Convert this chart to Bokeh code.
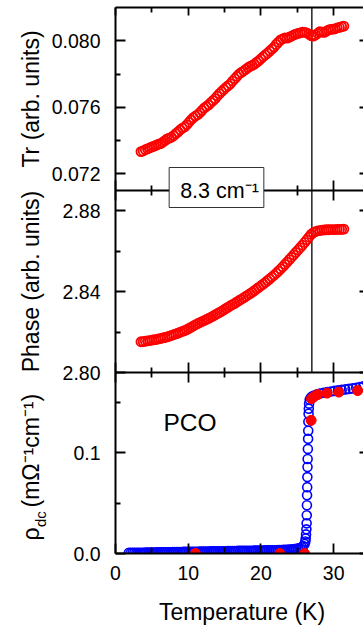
import math
from bokeh.plotting import figure
from bokeh.models import (Range1d, LinearAxis, FixedTicker, PrintfTickFormatter, Label,
                          BoxAnnotation)
from bokeh.embed import file_html
from bokeh.resources import INLINE

# ---------------- data ----------------
# Panel 1: transmission (arb. units) vs temperature (K)
tr_T = [3.5, 3.8, 4.1, 4.4, 4.7, 5.0, 5.3, 5.6, 5.9, 6.2, 6.5, 6.8, 7.1, 7.4, 7.7, 8.0,
        8.3, 8.6, 8.9, 9.2, 9.5, 9.8, 10.1, 10.4, 10.7, 11.0, 11.3, 11.6, 11.9, 12.2,
        12.5, 12.8, 13.1, 13.4, 13.7, 14.0, 14.3, 14.6, 14.9, 15.2, 15.5, 15.8, 16.1,
        16.4, 16.7, 17.0, 17.3, 17.6, 17.9, 18.2, 18.5, 18.8, 19.1, 19.4, 19.7, 20.0,
        20.3, 20.6, 20.9, 21.2, 21.5, 21.8, 22.1, 22.4, 22.7, 23.0, 23.3, 23.6, 23.9,
        24.2, 24.5, 24.8, 25.1, 25.4, 25.7, 26.0, 26.3, 26.6, 26.9, 27.2, 27.5, 27.8,
        28.1, 28.4, 28.7, 29.0, 29.3, 29.6, 29.9, 30.2, 30.5, 30.8, 31.1, 31.4]
tr_val = [0.07334, 0.07338, 0.07345, 0.07350, 0.07356, 0.07362, 0.07366, 0.07372,
          0.07378, 0.07382, 0.07390, 0.07400, 0.07410, 0.07415, 0.07420, 0.07430,
          0.07442, 0.07452, 0.07465, 0.07475, 0.07482, 0.07495, 0.07510, 0.07525,
          0.07538, 0.07548, 0.07555, 0.07568, 0.07582, 0.07596, 0.07605, 0.07615,
          0.07628, 0.07640, 0.07652, 0.07668, 0.07682, 0.07695, 0.07708, 0.07720,
          0.07730, 0.07742, 0.07758, 0.07772, 0.07786, 0.07800, 0.07810, 0.07818,
          0.07828, 0.07838, 0.07846, 0.07852, 0.07860, 0.07870, 0.07880, 0.07892,
          0.07904, 0.07915, 0.07926, 0.07938, 0.07950, 0.07962, 0.07978, 0.07992,
          0.08005, 0.08012, 0.08018, 0.08016, 0.08022, 0.08028, 0.08035, 0.08040,
          0.08044, 0.08048, 0.08052, 0.08050, 0.08048, 0.08040, 0.08030, 0.08028,
          0.08035, 0.08045, 0.08055, 0.08052, 0.08050, 0.08058, 0.08065, 0.08068,
          0.08070, 0.08072, 0.08078, 0.08080, 0.08085, 0.08088]

# Panel 2: phase (arb. units) vs temperature (K)
ph_T = tr_T
ph_val = [2.8152, 2.8153, 2.8155, 2.8156, 2.8158, 2.8160, 2.8162, 2.8163, 2.8166,
          2.8168, 2.8171, 2.8173, 2.8176, 2.8180, 2.8183, 2.8187, 2.8191, 2.8195,
          2.8199, 2.8203, 2.8207, 2.8212, 2.8218, 2.8224, 2.8230, 2.8236, 2.8242,
          2.8247, 2.8252, 2.8257, 2.8262, 2.8267, 2.8273, 2.8279, 2.8285, 2.8291,
          2.8297, 2.8303, 2.8310, 2.8317, 2.8323, 2.8330, 2.8336, 2.8342, 2.8349,
          2.8356, 2.8362, 2.8369, 2.8376, 2.8383, 2.8390, 2.8397, 2.8405, 2.8413,
          2.8421, 2.8429, 2.8437, 2.8445, 2.8454, 2.8463, 2.8472, 2.8481, 2.8491,
          2.8501, 2.8512, 2.8523, 2.8535, 2.8546, 2.8558, 2.8570, 2.8582, 2.8594,
          2.8606, 2.8618, 2.8630, 2.8643, 2.8656, 2.8670, 2.8683, 2.8692, 2.8697,
          2.8700, 2.8702, 2.8704, 2.8705, 2.8706, 2.8706, 2.8707, 2.8707, 2.8707,
          2.8708, 2.8708, 2.8708, 2.8709]

# Panel 3: dc data (open blue) and points from the optical data (filled red)
dc_T = [1.84,
        2.1, 2.35, 2.6, 2.85, 3.1, 3.35, 3.6, 3.85, 4.1, 4.35, 4.6, 4.85,
        5.1, 5.35, 5.6, 5.85, 6.1, 6.35, 6.6, 6.85, 7.1, 7.35, 7.6, 7.85,
        8.1, 8.35, 8.6, 8.85, 9.1, 9.35, 9.6, 9.85, 10.1, 10.35, 10.6, 10.85,
        11.1, 11.35, 11.6, 11.85, 12.1, 12.35, 12.6, 12.85, 13.1, 13.35, 13.6, 13.85,
        14.1, 14.35, 14.6, 14.85, 15.1, 15.35, 15.6, 15.85, 16.1, 16.35, 16.6, 16.85,
        17.1, 17.35, 17.6, 17.85, 18.1, 18.35, 18.6, 18.85, 19.1, 19.35, 19.6, 19.85,
        20.1, 20.35, 20.6, 20.85, 21.1, 21.35, 21.6, 21.85, 22.1, 22.35, 22.6, 22.85,
        23.1, 23.35, 23.6, 23.85, 24.1, 24.35, 24.6, 24.85, 25.1,
        25.35, 25.6, 25.8, 26.0, 26.1, 26.15, 26.2, 26.25, 26.28, 26.3, 26.32, 26.34,
        26.36, 26.38, 26.4, 26.42, 26.45, 26.48, 26.5, 26.52, 26.55, 26.58, 26.62,
        26.7, 26.85, 27.0, 27.3, 27.7, 28.1, 28.6, 29.1, 29.6, 30.1, 30.6, 31.1, 31.6,
        32.1, 32.6, 33.1, 33.6, 34.1]
dc_val = [0.0008,
          0.0006, 0.0006, 0.0007, 0.0007, 0.0007, 0.0008, 0.0008, 0.0008, 0.0009, 0.0009, 0.0009, 0.0010,
          0.0010, 0.0010, 0.0011, 0.0011, 0.0011, 0.0012, 0.0012, 0.0012, 0.0013, 0.0013, 0.0013, 0.0014,
          0.0014, 0.0014, 0.0015, 0.0015, 0.0015, 0.0016, 0.0016, 0.0016, 0.0017, 0.0017, 0.0017, 0.0018,
          0.0018, 0.0018, 0.0019, 0.0019, 0.0019, 0.0020, 0.0020, 0.0020, 0.0021, 0.0021, 0.0021, 0.0022,
          0.0022, 0.0022, 0.0023, 0.0023, 0.0023, 0.0024, 0.0024, 0.0024, 0.0025, 0.0025, 0.0025, 0.0026,
          0.0026, 0.0026, 0.0027, 0.0027, 0.0027, 0.0028, 0.0028, 0.0028, 0.0029, 0.0029, 0.0029, 0.0030,
          0.0030, 0.0030, 0.0031, 0.0031, 0.0031, 0.0032, 0.0032, 0.0033, 0.0033, 0.0034, 0.0034, 0.0035,
          0.0036, 0.0037, 0.0038, 0.0039, 0.0040, 0.0042, 0.0044, 0.0046, 0.0049,
          0.0055, 0.0062, 0.0075, 0.0095, 0.0120, 0.0150, 0.0190, 0.0240, 0.0300, 0.0380,
          0.0480, 0.0580, 0.0660, 0.0760, 0.0860, 0.0940, 0.1040, 0.1140, 0.1220, 0.1310,
          0.1390, 0.1440, 0.1490, 0.1530, 0.1550, 0.1560, 0.1572, 0.1582, 0.1590, 0.1598,
          0.1605, 0.1611, 0.1617, 0.1622, 0.1627, 0.1632, 0.1637, 0.1642, 0.1648, 0.1655,
          0.1662]
opt_T = [11.0, 22.6, 26.0, 26.9, 26.95, 27.3, 27.8, 29.1, 30.7, 33.3]
opt_val = [0.0, 0.0, 0.0, 0.1324, 0.1540, 0.1560, 0.1580, 0.1595, 0.1605, 0.1620]

TC = 27.0  # vertical marker (K)

# axis limits, ticks, labels
X_MAX = 34.1
TR_LIM = (0.071, 0.082)
PH_LIM = (2.80, 2.89)
RHO_LIM = (0.0, 0.18)
TR_TICKS, TR_MINOR = [0.072, 0.076, 0.080], [0.074, 0.078]
PH_TICKS, PH_MINOR = [2.80, 2.84, 2.88], [2.82, 2.86]
RHO_TICKS, RHO_MINOR = [0.0, 0.1], [0.05, 0.15]
X_TICKS, X_MINOR = [0, 10, 20, 30], [5, 15, 25]
TR_LABEL = "Tr (arb. units)"
PH_LABEL = "Phase (arb. units)"
RHO_SYM, RHO_SUB, RHO_UNIT = "\u03c1", "dc", "(m\u03a9\u207b\u00b9cm\u207b\u00b9)"
X_LABEL = "Temperature (K)"
BOX_TEXT = "8.3 cm\u207b\u00b9"
SAMPLE = "PCO"

# ---------------- layout (the frame covers the whole canvas) ----------------
FONT = "Liberation Sans"
W, H = 363, 629
X0_PX = 115                      # screen x of T = 0
XS = (W - X0_PX) / X_MAX         # px per K
PANEL_PX = [(7, 190), (190, 372), (372, 553)]


def full_range(lim, px):
    lo, hi = lim
    a, b = px
    s = (hi - lo) / (b - a)
    return Range1d(lo - (H - b) * s, hi + a * s)


tr_range = full_range(TR_LIM, PANEL_PX[0])
ph_range = full_range(PH_LIM, PANEL_PX[1])
rho_range = full_range(RHO_LIM, PANEL_PX[2])
x_range = Range1d(-X0_PX / XS, X_MAX)


def tx(px):   # data x at a screen x (for text placement)
    return x_range.start + px / W * (x_range.end - x_range.start)


def ty(px):   # data y (default range) at a screen y (for text placement)
    return rho_range.end - px / H * (rho_range.end - rho_range.start)


p = figure(frame_width=W, frame_height=H,
           min_border_left=0, min_border_right=0, min_border_top=0, min_border_bottom=0,
           x_range=x_range, y_range=rho_range,
           x_axis_location=None, y_axis_location=None,
           toolbar_location=None, output_backend="svg", title=None,
           outline_line_color=None, background_fill_color="white", border_fill_color="white")
p.extra_y_ranges = {"tr": tr_range, "ph": ph_range}
p.xgrid.visible = False
p.ygrid.visible = False


def style_axis(ax):
    ax.axis_line_color = "black"
    ax.axis_line_width = 2
    ax.major_tick_line_color = "black"
    ax.major_tick_line_width = 1.8
    ax.minor_tick_line_color = "black"
    ax.minor_tick_line_width = 1.8
    ax.major_label_text_font = FONT
    ax.major_label_text_font_size = "19.5px"
    ax.major_label_text_color = "black"


# left axes, one per panel, at T = 0
def left_axis(rname, lim, ticks, minor, fmt):
    ax = LinearAxis(y_range_name=rname, fixed_location=0, bounds=lim,
                    ticker=FixedTicker(ticks=ticks, minor_ticks=minor),
                    formatter=PrintfTickFormatter(format=fmt))
    style_axis(ax)
    ax.major_tick_in = 10
    ax.major_tick_out = 0
    ax.minor_tick_in = 5
    ax.minor_tick_out = 0
    ax.major_label_standoff = 15
    p.add_layout(ax, "left")


left_axis("tr", TR_LIM, TR_TICKS, TR_MINOR, "%.3f")
left_axis("ph", PH_LIM, PH_TICKS, PH_MINOR, "%.2f")
left_axis("default", RHO_LIM, RHO_TICKS, RHO_MINOR, "%.1f")


# right axes: short inward ticks only
def right_axis(rname, lim, ticks):
    ax = LinearAxis(y_range_name=rname, fixed_location=X_MAX, bounds=lim,
                    ticker=FixedTicker(ticks=ticks, minor_ticks=[]))
    style_axis(ax)
    ax.axis_line_color = None
    ax.major_tick_in = 4
    ax.major_tick_out = 0
    ax.minor_tick_in = 0
    ax.minor_tick_out = 0
    ax.major_label_text_color = None
    p.add_layout(ax, "right")


right_axis("tr", TR_LIM, TR_TICKS)
right_axis("ph", PH_LIM, PH_TICKS)
right_axis("default", RHO_LIM, RHO_TICKS)


# horizontal axes: top, the two panel boundaries, bottom
def x_axis(side, rname, loc, tin, tout, mtin, mtout, labels=False):
    ax = LinearAxis(y_range_name=rname, fixed_location=loc, bounds=(0, X_MAX),
                    ticker=FixedTicker(ticks=X_TICKS, minor_ticks=X_MINOR),
                    formatter=PrintfTickFormatter(format="%d"))
    style_axis(ax)
    ax.major_tick_in = tin
    ax.major_tick_out = tout
    ax.minor_tick_in = mtin
    ax.minor_tick_out = mtout
    ax.major_label_standoff = 12
    if not labels:
        ax.major_label_text_color = None
    p.add_layout(ax, side)


# white mask below the bottom axis so markers sitting on it are cut like in a plot box
p.add_layout(BoxAnnotation(top=RHO_LIM[0], fill_color="white", fill_alpha=1.0,
                           line_color=None, level="glyph"))

x_axis("above", "tr", TR_LIM[1], 8, 0, 5, 0)
x_axis("below", "tr", TR_LIM[0], 10, 10, 5, 5)
x_axis("below", "ph", PH_LIM[0], 10, 10, 5, 5)
x_axis("below", "default", RHO_LIM[0], 10, 0, 6, 0, labels=True)

# ---------------- marks ----------------
p.segment(x0=[TC], y0=[PH_LIM[0]], x1=[TC], y1=[PH_LIM[1]], y_range_name="ph",
          line_color="black", line_width=1.3)
p.segment(x0=[TC], y0=[TR_LIM[0]], x1=[TC], y1=[TR_LIM[1]], y_range_name="tr",
          line_color="black", line_width=1.3)

p.scatter(tr_T, tr_val, marker="circle", size=9, line_color="#ff0000", line_width=1.8,
          fill_color=None, y_range_name="tr")
p.scatter(ph_T, ph_val, marker="circle", size=9, line_color="#ff0000", line_width=1.8,
          fill_color=None, y_range_name="ph")
p.scatter(dc_T, dc_val, marker="circle", size=9, line_color="#0000ff", line_width=1.6,
          fill_color=None)
p.scatter(opt_T, opt_val, marker="circle", size=10, line_color="#ff0000",
          fill_color="#ff0000")

# ---------------- texts ----------------
p.add_layout(Label(x=tx(216), y=ty(187), text=BOX_TEXT,
                   text_align="center", text_baseline="middle", text_font=FONT,
                   text_font_size="21.5px", text_color="black",
                   background_fill_color="white", border_line_color="#333333",
                   border_line_width=1, padding=(11, 5, 11, 5)))

p.add_layout(Label(x=tx(163), y=ty(421.5), text=SAMPLE, text_align="left",
                   text_baseline="middle", text_font=FONT, text_font_size="24.5px",
                   text_color="black"))

ANG = math.pi / 2
for txt, xpx, ypx, align, fs in [(TR_LABEL, 30.5, 98.5, "center", "23px"),
                                  (PH_LABEL, 30.5, 281.0, "center", "23px"),
                                  (RHO_SYM, 30.5, 540.0, "left", "23px"),
                                  (RHO_SUB, 39.5, 526.5, "left", "15px"),
                                  (RHO_UNIT, 30.5, 507.0, "left", "23px")]:
    p.add_layout(Label(x=tx(xpx), y=ty(ypx), text=txt, angle=ANG, text_align=align,
                       text_baseline="middle", text_font=FONT, text_font_size=fs,
                       text_color="black"))

p.add_layout(Label(x=tx(241.5), y=ty(611.5), text=X_LABEL, text_align="center",
                   text_baseline="middle", text_font=FONT, text_font_size="23px",
                   text_color="black"))

open("out.html", "w").write(file_html(p, INLINE))
